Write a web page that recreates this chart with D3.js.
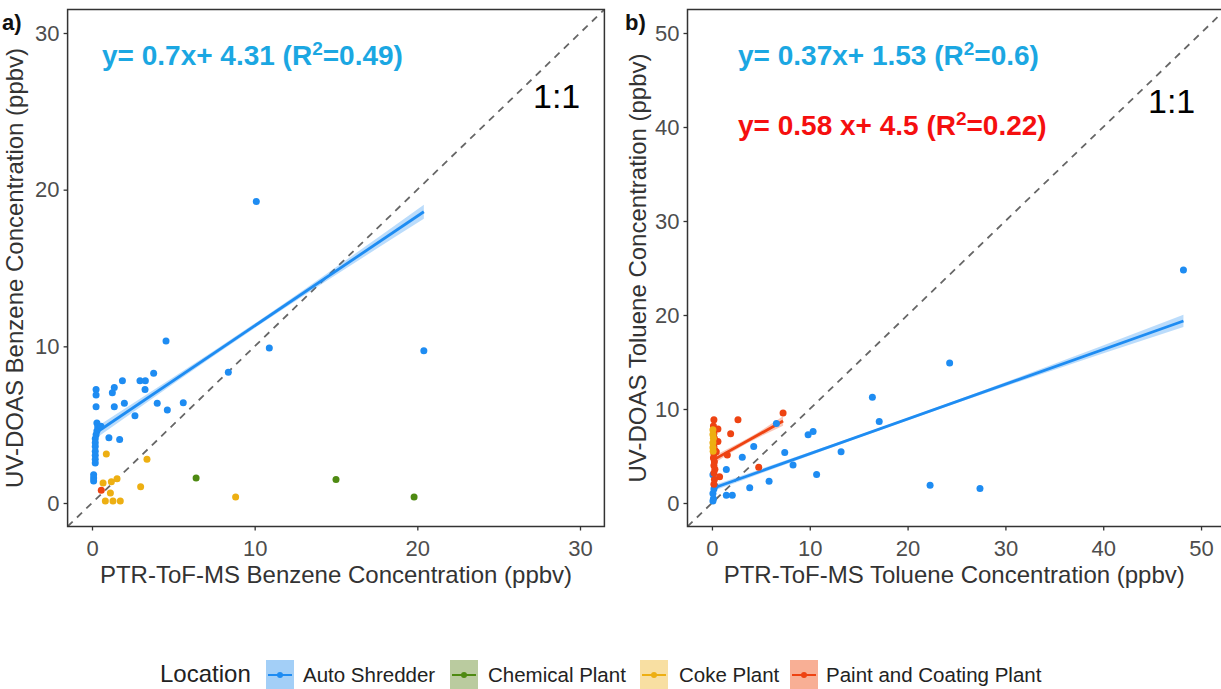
<!DOCTYPE html>
<html><head><meta charset="utf-8">
<script src="https://cdn.jsdelivr.net/npm/d3@7"></script>
<style>body{margin:0;background:#fff} svg{display:block}</style>
</head><body>
<svg id="c" width="1221" height="689"></svg>
<script>
// ---------- data ----------
const locations = ["Auto Shredder", "Chemical Plant", "Coke Plant", "Paint and Coating Plant"];
const pointColors = ["#1E8CF2", "#4E8A12", "#EDAF12", "#EE4312"];
const keyFills = ["#A3CFF7", "#BACB9F", "#F8DFA2", "#F8AF95"];

const axisTicksA = [0, 10, 20, 30];
const axisTicksB = [0, 10, 20, 30, 40, 50];

// Panel a: benzene
const benzAutoX = [0.25,0.25,0.25,0.3,0.35,0.3,0.25,0.2,0.2,0.2,0.2,0.2,0.2,0.2,0.1,0.1,0.1,0.55,1.04,1.70,1.37,1.25,1.37,1.87,1.99,2.64,2.95,3.28,3.26,3.79,4.01,4.63,4.55,5.61,8.38,10.9,10.1,20.4];
const benzAutoY = [7.25,6.9,6.15,5.1,4.85,4.6,4.35,4.1,3.85,3.6,3.3,3.05,2.8,2.55,1.8,1.6,1.4,4.9,4.17,4.06,7.38,7.04,6.15,7.8,6.36,5.57,7.8,7.8,7.25,8.28,6.36,5.93,10.34,6.4,8.34,9.9,19.25,9.72];
const benzChemX = [6.4, 15.0, 19.8];
const benzChemY = [1.6, 1.5, 0.38];
const benzCokeX = [0.88,3.38,0.68,1.19,1.54,1.13,2.99,0.82,1.29,1.74,8.83];
const benzCokeY = [3.12,2.8,1.28,1.35,1.54,0.64,1.03,0.13,0.13,0.13,0.38];
const benzPaintX = [0.57];
const benzPaintY = [0.81];

// Panel b: toluene
const tolAutoX = [48.2,24.3,16.4,17.1,9.83,10.34,13.2,10.7,22.3,27.4,7.44,8.29,6.59,4.27,3.1,1.47,5.84,3.86,1.47,2.08,0.1,0.1,0.15,0.2,0.1,0.3];
const tolAutoY = [24.8,14.9,11.25,8.68,7.25,7.6,5.46,3.04,1.9,1.54,5.36,4.04,8.45,6.0,4.86,3.57,2.32,1.61,0.82,0.82,3.0,1.0,0.46,1.5,0.2,1.8];
const tolCokeX = [0.1,0.1,0.15,0.1,0.1,0.12];
const tolCokeY = [7.8,7.3,6.9,6.4,5.9,5.5];
const tolPaintX = [0.2,2.66,7.27,0.61,1.91,0.61,0.44,1.57,0.78,4.78,0.15,0.2,0.25,0.15,0.2,0.3,0.2,0.15,0.25,0.2,0.3,0.2,0.25,0.2];
const tolPaintY = [8.86,8.86,9.57,7.86,7.36,6.54,5.46,5.1,2.79,3.79,8.2,7.4,6.9,6.4,6.0,5.6,5.2,4.8,4.4,4.0,3.6,3.2,2.5,2.0];

// fitted lines (from equations in the chart): [slope, intercept, xmin, xmax]
const fitBenzAuto = [0.7, 4.31, 0.2, 20.4];
const fitTolAuto = [0.37, 1.53, 0.1, 48.2];
const fitTolPaint = [0.58, 4.5, 0.15, 7.27];
// confidence band half-width at xmin / mid / xmax
const bandBenzAuto = [0.35, 0.15, 0.45];
const bandTolAuto = [0.3, 0.15, 0.65];
const bandTolPaint = [0.4, 0.25, 0.5];

const eqA = [{pre: "y= 0.7x+ 4.31 (R", post: "=0.49)", color: "#1BA7E2"}];
const eqB = [{pre: "y= 0.37x+ 1.53 (R", post: "=0.6)", color: "#1BA7E2"},
             {pre: "y= 0.58 x+ 4.5 (R", post: "=0.22)", color: "#F50F0F"}];

// ---------- drawing ----------
const svg = d3.select("#c");
const font = "'Liberation Sans', Arial, sans-serif";

function panel(opts) {
  const x = d3.scaleLinear().domain(opts.xdom).range(opts.xr);
  const y = d3.scaleLinear().domain(opts.ydom).range([526.5, 9.5]);
  const g = svg.append("g");
  const clipId = "clip" + opts.id;
  svg.append("clipPath").attr("id", clipId).append("rect")
    .attr("x", opts.xr[0]).attr("y", 9.5).attr("width", opts.xr[1] - opts.xr[0]).attr("height", 517);
  const inner = g.append("g").attr("clip-path", `url(#${clipId})`);

  // 1:1 line
  inner.append("line")
    .attr("x1", x(opts.xdom[0])).attr("y1", y(opts.ydom[0]))
    .attr("x2", x(opts.xdom[1])).attr("y2", y(opts.ydom[1]))
    .attr("stroke", "#666").attr("stroke-width", 1.8).attr("stroke-dasharray", "7,6");

  // fits
  opts.fits.forEach(f => {
    const [m, b, x0, x1] = f.fit;
    const xm = (x0 + x1) / 2;
    const xs = [x0, xm, x1];
    const area = d3.area().x((d, i) => x(xs[i]))
      .y0((d, i) => y(m * xs[i] + b - f.band[i]))
      .y1((d, i) => y(m * xs[i] + b + f.band[i]))
      .curve(d3.curveMonotoneX);
    inner.append("path").datum(xs).attr("d", area).attr("fill", f.color).attr("opacity", 0.3);
    inner.append("line")
      .attr("x1", x(x0)).attr("y1", y(m * x0 + b))
      .attr("x2", x(x1)).attr("y2", y(m * x1 + b))
      .attr("stroke", f.color).attr("stroke-width", 2.8);
  });

  // points
  opts.series.forEach(s => {
    inner.selectAll(null).data(s.xs).enter().append("circle")
      .attr("cx", d => x(d)).attr("cy", (d, i) => y(s.ys[i]))
      .attr("r", 3.5).attr("fill", s.color);
  });

  // border
  g.append("rect").attr("x", opts.xr[0]).attr("y", 9.5)
    .attr("width", opts.xr[1] - opts.xr[0]).attr("height", 517)
    .attr("fill", "none").attr("stroke", "#333").attr("stroke-width", 1.5);

  // axes
  const xa = g.append("g").attr("transform", "translate(0,526.5)")
    .call(d3.axisBottom(x).tickValues(opts.ticks).tickSize(4).tickPadding(9).tickFormat(d3.format("d")));
  const ya = g.append("g").attr("transform", `translate(${opts.xr[0]},0)`)
    .call(d3.axisLeft(y).tickValues(opts.ticks).tickSize(4).tickPadding(4).tickFormat(d3.format("d")));
  [xa, ya].forEach(a => {
    a.select(".domain").remove();
    a.selectAll(".tick line").attr("stroke", "#333").attr("stroke-width", 1.3);
    a.selectAll(".tick text").attr("fill", "#4d4d4d").style("font-family", font).style("font-size", "22px");
  });
  xa.selectAll(".tick text").attr("dy", "0.75em");

  // axis titles
  g.append("text").attr("x", (opts.xr[0] + Math.min(opts.xr[1], 1221)) / 2).attr("y", 583)
    .attr("text-anchor", "middle").attr("fill", "#333")
    .style("font-family", font).style("font-size", "24px").text(opts.xtitle);
  g.append("text").attr("transform", `translate(${opts.ytX},268) rotate(-90)`)
    .attr("text-anchor", "middle").attr("dy", "0.35em").attr("fill", "#333")
    .style("font-family", font).style("font-size", "24px").text(opts.ytitle);

  // panel label
  g.append("text").attr("x", opts.labX).attr("y", 30).attr("fill", "#111")
    .style("font-family", font).style("font-size", "22px").style("font-weight", "bold").text(opts.label);

  // 1:1 text
  g.append("text").attr("x", opts.oneX).attr("y", opts.oneY).attr("fill", "#000")
    .style("font-family", font).style("font-size", "34px").text("1:1");

  // equations
  opts.eqs.forEach((e, i) => {
    const t = g.append("text").attr("x", opts.eqX).attr("y", 65 + i * 70).attr("fill", e.color)
      .style("font-family", font).style("font-size", "28px").style("font-weight", "bold");
    t.append("tspan").text(e.pre);
    t.append("tspan").attr("dy", -10).style("font-size", "19px").text("2");
    t.append("tspan").attr("dy", 10).text(e.post);
  });
}

panel({
  id: "a", xdom: [-1.5, 31.5], ydom: [-1.5, 31.5], xr: [67.6, 604.4], ticks: axisTicksA,
  xtitle: "PTR-ToF-MS Benzene Concentration (ppbv)", ytitle: "UV-DOAS Benzene Concentration (ppbv)",
  ytX: 15, label: "a)", labX: 2, oneX: 533, oneY: 108, eqX: 102, eqs: eqA,
  fits: [{fit: fitBenzAuto, band: bandBenzAuto, color: pointColors[0]}],
  series: [
    {xs: benzChemX, ys: benzChemY, color: pointColors[1]},
    {xs: benzCokeX, ys: benzCokeY, color: pointColors[2]},
    {xs: benzAutoX, ys: benzAutoY, color: pointColors[0]},
    {xs: benzPaintX, ys: benzPaintY, color: pointColors[3]}
  ]
});

panel({
  id: "b", xdom: [-2.5, 52.5], ydom: [-2.5, 52.5], xr: [687.5, 1225.5], ticks: axisTicksB,
  xtitle: "PTR-ToF-MS Toluene Concentration (ppbv)", ytitle: "UV-DOAS Toluene Concentration (ppbv)",
  ytX: 638, label: "b)", labX: 625, oneX: 1148, oneY: 113, eqX: 738, eqs: eqB,
  fits: [{fit: fitTolAuto, band: bandTolAuto, color: pointColors[0]},
         {fit: fitTolPaint, band: bandTolPaint, color: pointColors[3]}],
  series: [
    {xs: tolAutoX, ys: tolAutoY, color: pointColors[0]},
    {xs: tolPaintX, ys: tolPaintY, color: pointColors[3]},
    {xs: tolCokeX, ys: tolCokeY, color: pointColors[2]}
  ]
});

// ---------- legend ----------
const leg = svg.append("g");
leg.append("text").attr("x", 160).attr("y", 682).attr("fill", "#222")
  .style("font-family", font).style("font-size", "24px").text("Location");
const keyX = [266, 450, 640, 790];
const labelX = [303, 488, 679, 826];
locations.forEach((loc, i) => {
  leg.append("rect").attr("x", keyX[i]).attr("y", 660).attr("width", 28).attr("height", 29)
    .attr("fill", keyFills[i]);
  leg.append("line").attr("x1", keyX[i] + 2).attr("x2", keyX[i] + 26).attr("y1", 675).attr("y2", 675)
    .attr("stroke", pointColors[i]).attr("stroke-width", 2);
  leg.append("circle").attr("cx", keyX[i] + 14).attr("cy", 675).attr("r", 3).attr("fill", pointColors[i]);
  leg.append("text").attr("x", labelX[i]).attr("y", 682).attr("fill", "#222")
    .style("font-family", font).style("font-size", "20.5px").text(loc);
});
</script>
</body></html>
